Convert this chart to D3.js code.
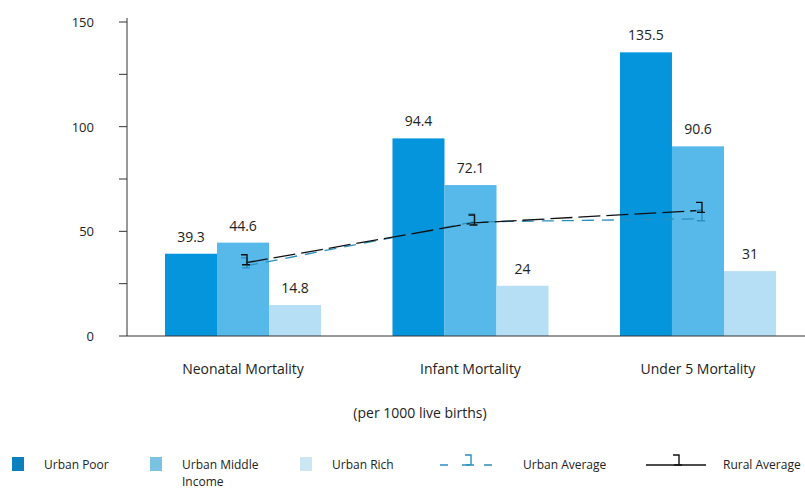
<!DOCTYPE html>
<html><head><meta charset="utf-8">
<script src="https://cdn.jsdelivr.net/npm/d3@7"></script>
<style>body{margin:0;background:#fff}text{font-family:"Open Sans","DejaVu Sans",sans-serif;fill:#222}</style>
</head><body><svg id="c" width="805" height="489"></svg>
<script>
var categories = ['Neonatal Mortality', 'Infant Mortality', 'Under 5 Mortality'];
var seriesNames = ['Urban Poor', 'Urban Middle Income', 'Urban Rich'];
var urbanPoor = [39.3, 94.4, 135.5];
var urbanMiddle = [44.6, 72.1, 90.6];
var urbanRich = [14.8, 24, 31];
var urbanAverage = [33.5, 54.5, 56];
var ruralAverage = [35, 54, 60];
var colors = ['#0595dd', '#56b9ea', '#b6dff6'];
var yTicks = [0, 50, 100, 150];

var svg = d3.select('#c');
var x = d3.scaleBand().domain(categories).range([127, 814]).paddingInner(0.314).paddingOuter(0.167);
var y = d3.scaleLinear().domain([0, 150]).range([336, 22]);
var sub = d3.scaleBand().domain(d3.range(3)).range([0, x.bandwidth()]);
var series = [urbanPoor, urbanMiddle, urbanRich];

series.forEach(function(vals, si){
  var g = svg.append('g');
  g.selectAll('rect').data(vals).enter().append('rect')
    .attr('x', function(d,i){ return x(categories[i]) + sub(si); })
    .attr('y', function(d){ return y(d); })
    .attr('width', sub.bandwidth())
    .attr('height', function(d){ return y(0) - y(d); })
    .attr('fill', colors[si]);
  g.selectAll('text').data(vals).enter().append('text')
    .attr('x', function(d,i){ return x(categories[i]) + sub(si) + sub.bandwidth()/2; })
    .attr('y', function(d){ return y(d) - 12; })
    .attr('text-anchor', 'middle').attr('font-size', 14).text(function(d){ return d; });
});

// axes
svg.append('line').attr('x1',127).attr('x2',127).attr('y1',18).attr('y2',336).attr('stroke','#333');
svg.append('line').attr('x1',127).attr('x2',805).attr('y1',336).attr('y2',336).attr('stroke','#333');
d3.range(0, 151, 25).forEach(function(t){
  svg.append('line').attr('x1',119).attr('x2',127).attr('y1',y(t)).attr('y2',y(t)).attr('stroke','#333');
});
svg.selectAll('.yl').data(yTicks).enter().append('text')
  .attr('x', 94).attr('y', function(d){ return y(d)+5; }).attr('text-anchor','end')
  .attr('font-size', 13).text(function(d){ return d; });
svg.selectAll('.xl').data(categories).enter().append('text')
  .attr('x', function(d){ return x(d) + x.bandwidth()/2; }).attr('y', 374)
  .attr('text-anchor','middle').attr('font-size',14).text(function(d){ return d; });
svg.append('text').attr('x',420).attr('y',418).attr('text-anchor','middle').attr('font-size',14).text('(per 1000 live births)');

// lines
function cx(i){ return x(categories[i]) + x.bandwidth()/2 + 3; }
var line = d3.line().x(function(d,i){ return cx(i); }).y(function(d){ return y(d); });
svg.append('path').attr('d', line(urbanAverage)).attr('fill','none').attr('stroke','#2a8fc0').attr('stroke-width',1.3).attr('stroke-dasharray','12,8');
svg.append('path').attr('d', line(ruralAverage)).attr('fill','none').attr('stroke','#111').attr('stroke-width',1.3).attr('stroke-dasharray','22,6');
function marker(xx, yy, col){
  svg.append('path').attr('d','M'+(xx-5)+','+(yy-8)+'h6v10M'+(xx-4)+','+(yy+2)+'h8').attr('fill','none').attr('stroke',col).attr('stroke-width',1.4);
}
urbanAverage.forEach(function(d,i){ marker(cx(i), y(d), '#2a8fc0'); });
ruralAverage.forEach(function(d,i){ marker(cx(i), y(d), '#111'); });

// legend
var lg = svg.append('g').attr('font-size', 12);
[[12,'Urban Poor','#0a80bf'],[150,'Urban Middle','#7cc2e2'],[300,'Urban Rich','#cde6f3']].forEach(function(l,i){
  lg.append('rect').attr('x',l[0]).attr('y',457).attr('width',12).attr('height',14).attr('fill',l[2]);
  lg.append('text').attr('x',l[0]+32).attr('y',469).text(l[1]);
});
lg.append('text').attr('x',182).attr('y',486).text('Income');
lg.append('line').attr('x1',440).attr('x2',500).attr('y1',465).attr('y2',465).attr('stroke','#2a8fc0').attr('stroke-width',1.3).attr('stroke-dasharray','8,14');
marker(470,463,'#2a8fc0');
lg.append('text').attr('x',523).attr('y',469).text('Urban Average');
lg.append('line').attr('x1',646).attr('x2',706).attr('y1',465).attr('y2',465).attr('stroke','#111').attr('stroke-width',1.3);
marker(678,463,'#111');
lg.append('text').attr('x',723).attr('y',469).text('Rural Average');
</script></body></html>
